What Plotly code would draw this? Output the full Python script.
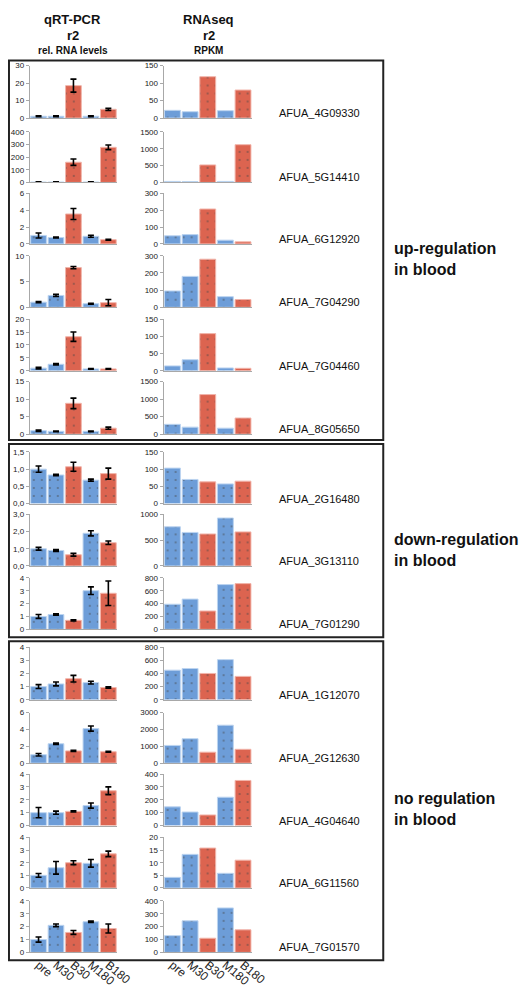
import plotly.graph_objects as go

# ---------------- data ----------------
conditions = ["pre", "M30", "B30", "M180", "B180"]

genes = ["AFUA_4G09330", "AFUA_5G14410", "AFUA_6G12920", "AFUA_7G04290",
         "AFUA_7G04460", "AFUA_8G05650", "AFUA_2G16480", "AFUA_3G13110",
         "AFUA_7G01290", "AFUA_1G12070", "AFUA_2G12630", "AFUA_4G04640",
         "AFUA_6G11560", "AFUA_7G01570"]

qpcr_vals = [
    [1.0, 1.0, 18.5, 1.0, 5.0],
    [3, 3, 160, 3, 278],
    [1.0, 0.75, 3.55, 0.9, 0.5],
    [1.0, 2.3, 7.7, 0.7, 0.9],
    [1.0, 2.5, 13.2, 0.7, 0.7],
    [1.0, 0.8, 8.8, 0.8, 1.7],
    [1.0, 0.83, 1.07, 0.68, 0.87],
    [1.0, 0.9, 0.65, 1.9, 1.35],
    [1.0, 1.15, 0.7, 3.0, 2.8],
    [1.0, 1.2, 1.6, 1.3, 0.93],
    [1.0, 2.3, 1.45, 4.1, 1.35],
    [1.0, 1.0, 1.1, 1.55, 2.7],
    [1.0, 1.6, 2.0, 1.95, 2.7],
    [1.0, 2.1, 1.55, 2.38, 1.85],
]

qpcr_err = [
    [0.3, 0.3, 3.7, 0.3, 0.6],
    [3, 3, 25, 3, 18],
    [0.3, 0.06, 0.65, 0.12, 0.05],
    [0.12, 0.2, 0.22, 0.1, 0.6],
    [0.3, 0.3, 1.8, 0.12, 0.12],
    [0.2, 0.1, 1.5, 0.1, 0.3],
    [0.09, 0.02, 0.13, 0.03, 0.16],
    [0.08, 0.05, 0.08, 0.15, 0.1],
    [0.15, 0.06, 0.05, 0.3, 0.95],
    [0.15, 0.15, 0.25, 0.1, 0.05],
    [0.15, 0.07, 0.07, 0.3, 0.05],
    [0.4, 0.12, 0.05, 0.2, 0.3],
    [0.15, 0.5, 0.15, 0.3, 0.22],
    [0.2, 0.1, 0.15, 0.05, 0.35],
]

rnaseq_vals = [
    [22, 18, 118, 21, 80],
    [30, 25, 520, 30, 1120],
    [48, 55, 207, 22, 12],
    [95, 180, 280, 62, 45],
    [14, 32, 108, 8, 7],
    [280, 200, 1130, 170, 460],
    [103, 70, 63, 57, 65],
    [760, 650, 620, 930, 660],
    [390, 470, 285, 695, 710],
    [450, 475, 400, 610, 355],
    [1050, 1450, 650, 2250, 820],
    [145, 105, 82, 220, 350],
    [4.2, 13.3, 15.8, 5.8, 11],
    [130, 245, 110, 345, 175],
]

qpcr_ticks = [
    [0, 10, 20, 30], [0, 100, 200, 300, 400], [0, 2, 4, 6], [0, 5, 10],
    [0, 5, 10, 15, 20], [0, 5, 10, 15], [0, 0.5, 1.0, 1.5], [0, 1, 2, 3],
    [0, 1, 2, 3, 4], [0, 1, 2, 3, 4], [0, 2, 4, 6], [0, 1, 2, 3, 4],
    [0, 1, 2, 3, 4], [0, 1, 2, 3, 4],
]
qpcr_ticktext = {
    6: ["0,0", "0,5", "1,0", "1,5"],
    7: ["0,0", "1,0", "2,0", "3,0"],
}
rnaseq_ticks = [
    [0, 50, 100, 150], [0, 500, 1000, 1500], [0, 100, 200, 300], [0, 100, 200, 300],
    [0, 50, 100, 150], [0, 500, 1000, 1500], [0, 50, 100, 150], [0, 500, 1000],
    [0, 200, 400, 600, 800], [0, 200, 400, 600, 800], [0, 1000, 2000, 3000],
    [0, 100, 200, 300, 400], [0, 5, 10, 15, 20], [0, 100, 200, 300, 400],
]

groups = ["up-regulation<br>in blood",
          "down-regulation<br>in blood",
          "no regulation<br>in blood"]

# ---------------- layout constants (pixels) ----------------
W, H = 527, 992
row_top_px = [54, 121, 183, 246, 310, 373, 444, 507, 571, 641, 707, 769, 833, 897]
row_zero_px = [107, 172, 234, 298, 362, 426, 496, 559, 623, 694, 758, 821, 884, 949]
col_x_px = [(22.5, 112.5), (160.5, 251.5)]
box_px = [(49, 432), (436, 631), (635, 957)]
box_right_px = 387
section_y_px = [249, 543, 804]

BLUE = "#6d9dd8"
BLUE_EDGE = "#bcd4f0"
RED = "#dc6450"
RED_EDGE = "#f2b4aa"
FONT = "Liberation Sans, Arial, sans-serif"


def px_x(x):
    return x / W


def px_y(y):
    return 1 - y / H


colors = [RED if c.startswith("B") else BLUE for c in conditions]
edges = [RED_EDGE if c.startswith("B") else BLUE_EDGE for c in conditions]
dotcol = ["#8a3428" if c.startswith("B") else "#e8f0fb" for c in conditions]

fig = go.Figure()
layout = {}

n = len(genes)
for i in range(n):
    for col in range(2):
        k = 2 * i + col + 1
        xa = "x" if k == 1 else f"x{k}"
        ya = "y" if k == 1 else f"y{k}"
        vals = qpcr_vals[i] if col == 0 else rnaseq_vals[i]
        ticks = qpcr_ticks[i] if col == 0 else rnaseq_ticks[i]
        bar = dict(
            x=conditions, y=vals, xaxis=xa, yaxis=ya,
            marker=dict(color=colors, line=dict(color=edges, width=1),
                        pattern=dict(shape=".", fgcolor=dotcol, size=8, solidity=0.06)),
            showlegend=False, hoverinfo="x+y",
        )
        if col == 0:
            bar["error_y"] = dict(type="data", array=qpcr_err[i], color="black",
                                  thickness=1.6, width=3)
        fig.add_trace(go.Bar(**bar))

        x0, x1 = col_x_px[col]
        xkey = "xaxis" if k == 1 else f"xaxis{k}"
        ykey = "yaxis" if k == 1 else f"yaxis{k}"
        bottom = (i == n - 1)
        layout[xkey] = dict(
            domain=[px_x(x0), px_x(x1)], anchor=ya, type="category",
            range=[-0.5, 4.5], showline=True, linecolor="#a8a8a8", linewidth=1,
            ticks="", showgrid=False, zeroline=False,
            showticklabels=bottom, tickangle=40,
            tickfont=dict(size=12, color="#222", family=FONT),
        )
        if col == 0 and i in qpcr_ticktext:
            ttext = qpcr_ticktext[i]
        else:
            ttext = [str(t) for t in ticks]
        layout[ykey] = dict(
            domain=[px_y(row_zero_px[i]), px_y(row_top_px[i])], anchor=xa,
            range=[0, ticks[-1]], tickvals=ticks, ticktext=ttext,
            showline=True, linecolor="#a8a8a8", linewidth=1,
            ticks="outside", ticklen=3, tickcolor="#a8a8a8",
            showgrid=False, zeroline=False,
            tickfont=dict(size=8, color="#222", family=FONT),
        )

annotations = []
for i, g in enumerate(genes):
    annotations.append(dict(
        x=px_x(277), y=px_y(row_zero_px[i] - 5), xref="paper", yref="paper",
        text=g, showarrow=False, xanchor="left", yanchor="middle",
        font=dict(size=11, color="#111", family=FONT)))

for label, yy in zip(groups, section_y_px):
    annotations.append(dict(
        x=px_x(396), y=px_y(yy), xref="paper", yref="paper",
        text=f"<b>{label}</b>", showarrow=False, xanchor="left", yanchor="middle",
        align="left", font=dict(size=16, color="#111", family=FONT)))

headers = [("<b>qRT-PCR</b>", 67, 8, 13), ("<b>r2</b>", 67, 24, 13),
           ("<b>rel. RNA levels</b>", 67, 39, 10),
           ("<b>RNAseq</b>", 207, 8, 13), ("<b>r2</b>", 207, 24, 13),
           ("<b>RPKM</b>", 207, 39, 10)]
for t, xx, yy, fs in headers:
    annotations.append(dict(
        x=px_x(xx), y=px_y(yy), xref="paper", yref="paper", text=t,
        showarrow=False, xanchor="center", yanchor="middle",
        font=dict(size=fs, color="#111", family=FONT)))

shapes = []
for (t, b) in box_px:
    shapes.append(dict(type="rect", xref="paper", yref="paper",
                       x0=px_x(1), x1=px_x(box_right_px), y0=px_y(b), y1=px_y(t),
                       line=dict(color="#222", width=2), fillcolor="rgba(0,0,0,0)"))

fig.update_layout(
    width=W, height=H, margin=dict(l=0, r=0, t=0, b=0),
    paper_bgcolor="white", plot_bgcolor="white",
    bargap=0.1, showlegend=False,
    annotations=annotations, shapes=shapes,
    font=dict(family=FONT),
    **layout,
)

fig.write_html("out.html")
